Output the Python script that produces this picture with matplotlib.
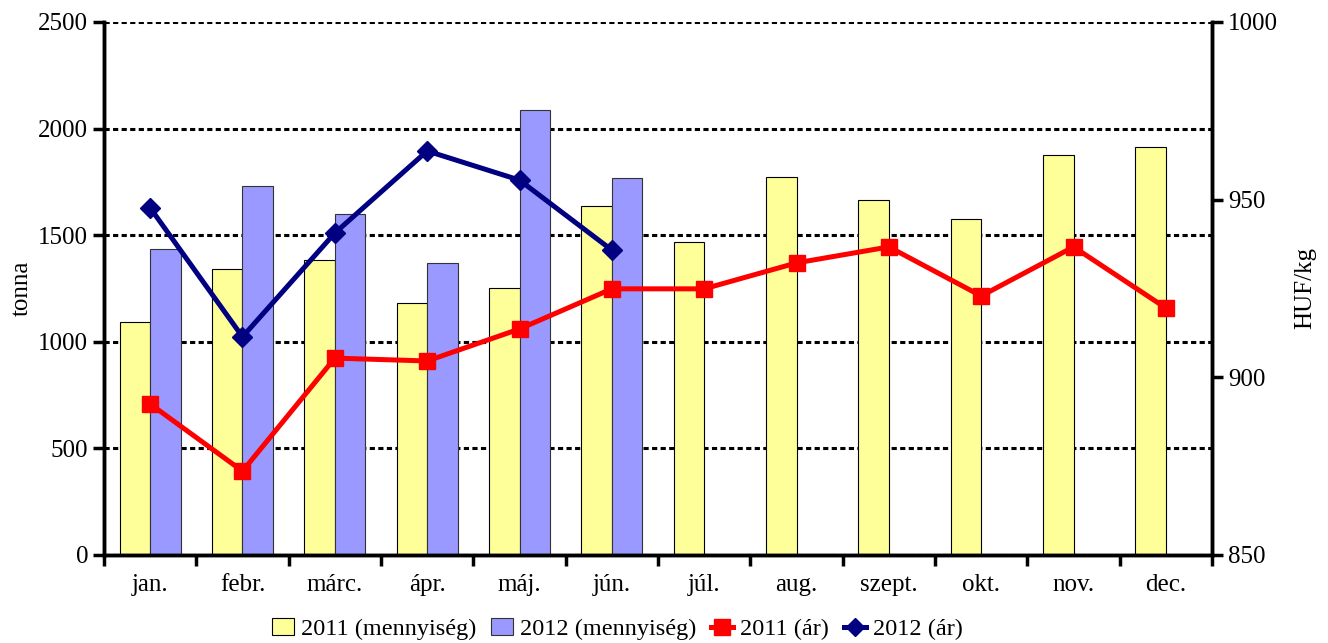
import matplotlib.pyplot as plt
import numpy as np
from matplotlib.lines import Line2D
from matplotlib.patches import Patch

plt.rcParams['font.family'] = ['Liberation Serif', 'DejaVu Serif']

months = ['jan.', 'febr.', 'márc.', 'ápr.', 'máj.', 'jún.', 'júl.',
          'aug.', 'szept.', 'okt.', 'nov.', 'dec.']
qty_2011 = [1093, 1341, 1384, 1182, 1252, 1637, 1468, 1773, 1665, 1576, 1876, 1914]
qty_2012 = [1435, 1731, 1599, 1370, 2087, 1768]
price_2011 = [892.5, 873.6, 905.4, 904.6, 913.6, 924.9, 924.9, 932.2, 936.7, 922.9, 936.7, 919.5]
price_2012 = [947.7, 911.4, 940.6, 963.7, 955.5, 935.8]

fig = plt.figure(figsize=(13.28, 6.43), dpi=100, facecolor='w')
ax = fig.add_axes([0.0783, 0.1369, 0.8344, 0.8289])
x = np.arange(len(months))
bw = 0.33

ax.bar(x[:len(qty_2011)] - bw/2, qty_2011, bw, color='#FFFF99', edgecolor='black', linewidth=0.8, zorder=2)
ax.bar(x[:len(qty_2012)] + bw/2, qty_2012, bw, color='#9999FF', edgecolor='#333333', linewidth=0.8, zorder=2)

ax.set_xlim(-0.5, 11.5)
ax.set_ylim(0, 2500)
ax.set_yticks(np.arange(0, 2501, 500))
ax.yaxis.grid(True, linestyle=(0, (1.7, 1.1)), color='black', linewidth=2.2, zorder=0)
ax.set_axisbelow(True)
ax.set_xticks(np.arange(-0.5, 12, 1))
ax.set_xticklabels([])
ax.set_xticks(x, minor=True)
ax.set_xticklabels(months, minor=True)
ax.tick_params(axis='x', which='major', length=8, width=2.5, direction='out')
ax.tick_params(axis='x', which='minor', length=0, labelsize=18, pad=14)
ax.tick_params(axis='y', length=8, width=2.5, direction='out', labelsize=18)
ax.set_ylabel('tonna', fontsize=18)
ax.spines['top'].set_visible(False)
for s in ['left', 'right', 'bottom']:
    ax.spines[s].set_linewidth(2.5)

ax2 = ax.twinx()
ax2.plot(x[:len(price_2011)], price_2011, color='#FF0000', linewidth=3.6, marker='s',
         markersize=12, zorder=3)
ax2.plot(x[:len(price_2012)], price_2012, color='#000080', linewidth=3.6, marker='D',
         markersize=10, zorder=4)
ax2.set_ylim(850, 1000)
ax2.set_yticks([850, 900, 950, 1000])
ax2.tick_params(axis='y', length=8, width=2.5, direction='out', labelsize=18)
ax2.set_ylabel('HUF/kg', fontsize=18, labelpad=12)
ax2.spines['top'].set_visible(False)
for s in ['left', 'right', 'bottom']:
    ax2.spines[s].set_linewidth(2.5)

handles = [
    Patch(facecolor='#FFFF99', edgecolor='black', linewidth=0.8),
    Patch(facecolor='#9999FF', edgecolor='#333333', linewidth=0.8),
    Line2D([], [], color='#FF0000', linewidth=3.6, marker='s', markersize=11),
    Line2D([], [], color='#000080', linewidth=3.6, marker='D', markersize=9),
]
labels = ['2011 (mennyiség)', '2012 (mennyiség)', '2011 (ár)', '2012 (ár)']
fig.legend(handles, labels, loc='lower center', bbox_to_anchor=(0.465, -0.03), ncol=4,
           frameon=False, fontsize=17.5, handlelength=0.9, handletextpad=0.3,
           columnspacing=0.6)

fig.savefig('out.png', dpi=100)
